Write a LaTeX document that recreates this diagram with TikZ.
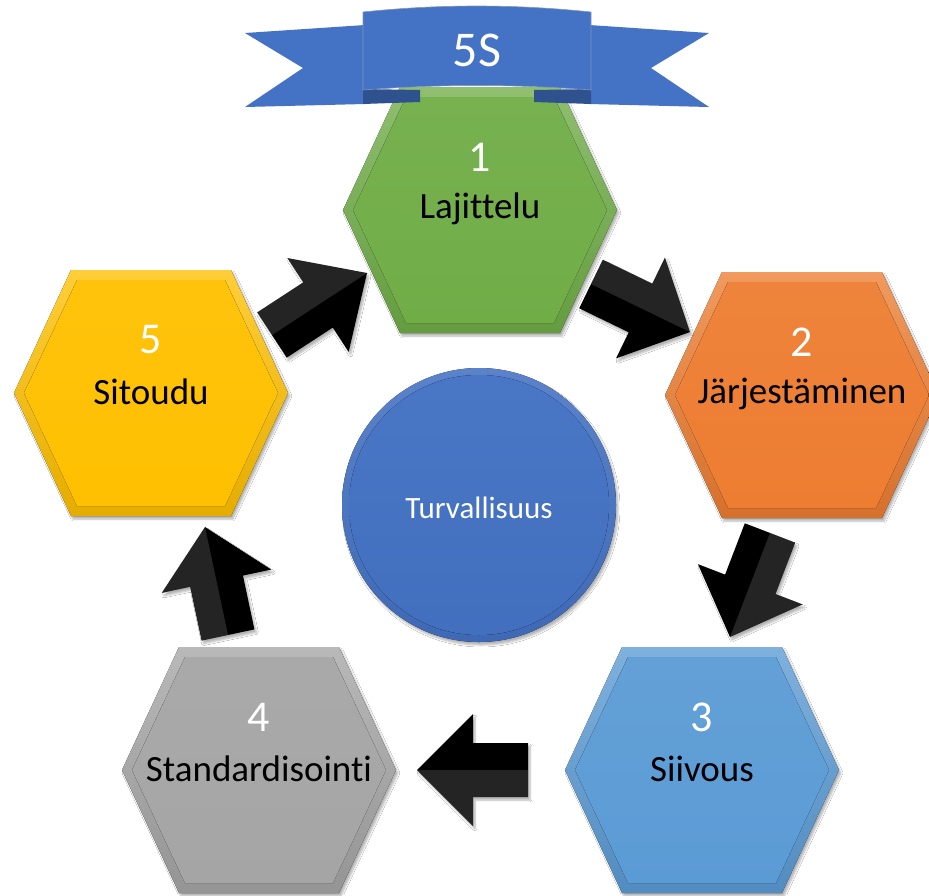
\documentclass[tikz,border=0pt]{standalone}
\usepackage{fontspec}
\setmainfont{Carlito}[Ligatures=NoCommon]
\usetikzlibrary{calc,shadows.blur}
\definecolor{cgreen}{HTML}{70AD47}
\definecolor{corange}{HTML}{ED7D31}
\definecolor{cblue}{HTML}{5B9BD5}
\definecolor{cgray}{HTML}{A5A5A5}
\definecolor{cyellow}{HTML}{FFC000}
\definecolor{bblue}{HTML}{4472C4}
\definecolor{bdark}{HTML}{2F528F}
\tikzset{
  numtext/.style={text=white, inner sep=0pt, font=\fontsize{44}{48}\selectfont},
  labtext/.style={text=black, inner sep=0pt, font=\fontsize{37}{40}\selectfont},
  circtext/.style={text=white, inner sep=0pt, font=\fontsize{31}{34}\selectfont},
  bannertext/.style={text=white, inner sep=0pt, font=\fontsize{50}{54}\selectfont},
  softshadow/.style={blur shadow={shadow xshift=2pt, shadow yshift=-3pt, shadow blur steps=6, shadow opacity=30}},
}
% hexagon cell: name, colour, x, y, digit, label
\newcommand\hexcell[6]{%
  \begin{scope}[shift={(#3,#4)}]
    \fill[softshadow, top color=#2!78!white, bottom color=#2!90!black]
      (-137,0) -- (-80,-123) -- (80,-123) -- (137,0) -- (80,123) -- (-80,123) -- cycle;
    \fill[top color=#2!95!white, bottom color=#2]
      (-127,0) -- (-74,-113) -- (74,-113) -- (127,0) -- (74,113) -- (-74,113) -- cycle;
  \end{scope}
  \node[numtext] (#1n) at (#3,{#4-53}) {#5};
  \node[labtext] (#1) at (#3,{#4-1}) {#6};
}
% block arrow from tail coordinate to tip coordinate
\newcommand\blockarrow[2]{%
  \coordinate (#1h) at ($(#1)!55pt!(#2)$);
  \fill[black, softshadow]
    ($(#1)!27pt!90:(#2)$) -- ($(#1h)!27pt!90:(#2)$) -- ($(#1h)!56pt!90:(#2)$) -- (#2)
    -- ($(#1h)!56pt!-90:(#2)$) -- ($(#1h)!27pt!-90:(#2)$) -- ($(#1)!27pt!-90:(#2)$) -- cycle;
  \fill[white, opacity=0.14]
    ($(#1)!27pt!90:(#2)$) -- ($(#1h)!27pt!90:(#2)$) -- ($(#1h)!56pt!90:(#2)$) -- (#2) -- (#1) -- cycle;
}
\begin{document}
\begin{tikzpicture}[x=1pt, y=-1pt]
  \useasboundingbox (0,0) rectangle (929,895);
  \clip (0,0) rectangle (929,895);
  \fill[white] (0,0) rectangle (929,895);

  % hexagons
  \hexcell{h1}{cgreen}{480}{210}{1}{Lajittelu}
  \hexcell{h2}{corange}{802}{395}{2}{Järjestäminen}
  \hexcell{h3}{cblue}{702}{770}{3}{Siivous}
  \hexcell{h4}{cgray}{259}{770}{4}{Standardisointi}
  \hexcell{h5}{cyellow}{151}{393}{5}{Sitoudu}

  % centre circle
  \fill[softshadow, top color=bblue!88!white, bottom color=bblue!92!black] (479,505) circle (137);
  \fill[top color=bblue!97!white, bottom color=bblue!97!black] (479,505) circle (130);
  \node[circtext] (c) at (479,508) {Turvallisuus};

  % arrows
  \coordinate (a51) at (272,335); \coordinate (a51t) at (367,273);
  \coordinate (a12) at (591,284); \coordinate (a12t) at (690,332);
  \coordinate (a23) at (770,533); \coordinate (a23t) at (730,637);
  \coordinate (a34) at (528,770); \coordinate (a34t) at (417,770);
  \coordinate (a45) at (228,635); \coordinate (a45t) at (205,527);
  \blockarrow{a51}{a51t}
  \blockarrow{a12}{a12t}
  \blockarrow{a23}{a23t}
  \blockarrow{a34}{a34t}
  \blockarrow{a45}{a45t}

  % banner
  \fill[bblue] (245,33) -- (365,25) -- (365,104) -- (245,107) -- (303,68) -- cycle;
  \fill[bblue] (709,33) -- (589,25) -- (589,104) -- (709,107) -- (651,68) -- cycle;
  \fill[bdark] (363,89) -- (420,90) -- (420,102) -- (363,104) -- cycle;
  \fill[bdark] (591,89) -- (534,90) -- (534,102) -- (591,104) -- cycle;
  \fill[bblue, draw=bdark!60, line width=0.6pt]
    (363,12) .. controls (440,4) and (514,4) .. (591,12) -- (591,90)
    .. controls (514,84) and (440,84) .. (363,90) -- cycle;
  \node[bannertext] (title) at (477,50) {5S};
\end{tikzpicture}
\end{document}
